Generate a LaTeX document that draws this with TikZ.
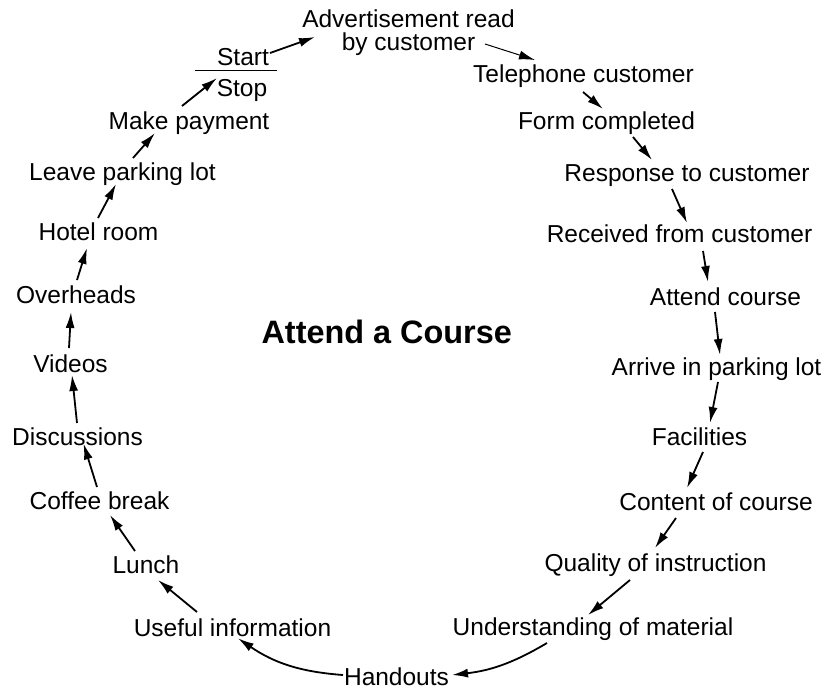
\documentclass[tikz,border=0pt]{standalone}
\usepackage{fontspec}
\setmainfont{Liberation Sans}
\usetikzlibrary{arrows.meta}

\begin{document}
\begin{tikzpicture}[x=1bp,y=-1bp,
        act/.style={anchor=base,inner sep=2bp,font=\fontsize{24.5bp}{22.7bp}\selectfont},
        flow/.style={line width=1.8bp,-{Latex[length=16bp,width=9bp]}}]
    \useasboundingbox (0,0) rectangle (827,691);

    \node [anchor=base,font=\bfseries\fontsize{32.4bp}{34bp}\selectfont] (title) at (386.7,343.3) {Attend a Course};

    % top of the cycle
    \node [act] (start) at (243,66) {Start};
    \node [act] (stop) at (242,96.7) {Stop};
    \draw [line width=1.4bp] (195,70.7) -- (277,70.7);
    \node [act,anchor=north,align=center] (adv) at (408.5,7.6) {Advertisement read \\ by customer};

    % right hand side
    \node [act] (tel) at (583.5,83) {Telephone customer};
    \node [act] (form) at (606.5,130) {Form completed};
    \node [act] (resp) at (687,181.7) {Response to customer};
    \node [act] (recv) at (679.5,242.7) {Received from customer};
    \node [act] (attend) at (725.5,305) {Attend course};
    \node [act] (arrive) at (716.5,375) {Arrive in parking lot};
    \node [act] (fac) at (699.5,445) {Facilities};
    \node [act] (content) at (716,510) {Content of course};
    \node [act] (quality) at (655.5,571.7) {Quality of instruction};
    \node [act] (under) at (593,635) {Understanding of material};
    \node [act] (hand) at (396.5,685) {Handouts};

    % left hand side
    \node [act] (useful) at (232.5,636) {Useful information};
    \node [act] (lunch) at (146,573) {Lunch};
    \node [act] (coffee) at (99.5,509) {Coffee break};
    \node [act] (disc) at (77.5,445) {Discussions};
    \node [act] (videos) at (70.5,372) {Videos};
    \node [act] (over) at (76,303) {Overheads};
    \node [act] (hotel) at (98.5,240) {Hotel room};
    \node [act] (leave) at (122.5,180.7) {Leave parking lot};
    \node [act] (make) at (189,130) {Make payment};

    \draw [flow] ([shift={(27,-13)}]start.base) -- ([shift={(-93.5,29.4)}]adv.north);
    \draw [flow,line width=1bp] ([shift={(76.5,36.4)}]adv.north) -- ([shift={(-48.5,-23)}]tel.base);
    \draw [flow] ([shift={(-0.5,9)}]tel.base) -- ([shift={(-3.5,-21)}]form.base);
    \draw [flow] ([shift={(26.5,7)}]form.base) -- ([shift={(-35,-21.7)}]resp.base);
    \draw [flow] ([shift={(-15,7.3)}]resp.base) -- ([shift={(7.5,-19.7)}]recv.base);
    \draw [flow] ([shift={(23.5,8.3)}]recv.base) -- ([shift={(-17.5,-23)}]attend.base);
    \draw [flow] ([shift={(-10.5,7)}]attend.base) -- ([shift={(3.5,-20)}]arrive.base);
    \draw [flow] ([shift={(1.5,7)}]arrive.base) -- ([shift={(10.5,-22)}]fac.base);
    \draw [flow] ([shift={(3.5,7)}]fac.base) -- ([shift={(-29,-22)}]content.base);
    \draw [flow] ([shift={(-40,8)}]content.base) -- ([shift={(-0.5,-23.7)}]quality.base);
    \draw [flow] ([shift={(-25.5,8.3)}]quality.base) -- ([shift={(-5,-20)}]under.base);
    \draw [flow] ([shift={(-46,8)}]under.base) to[bend left=12] ([shift={(55.5,-10)}]hand.base);
    \draw [flow] ([shift={(-53.5,-10)}]hand.base) to[bend left=15] ([shift={(5.5,2.3)}]useful.base);
    \draw [flow] ([shift={(-35.5,-24)}]useful.base) -- ([shift={(12,7)}]lunch.base);
    \draw [flow] ([shift={(-11,-22)}]lunch.base) -- ([shift={(10.5,6)}]coffee.base);
    \draw [flow] ([shift={(-2.5,-22)}]coffee.base) -- ([shift={(6,-1.5)}]disc.base);
    \draw [flow] ([shift={(-0.5,-22)}]disc.base) -- ([shift={(1.5,3)}]videos.base);
    \draw [flow] ([shift={(-1.5,-24)}]videos.base) -- ([shift={(-5,9)}]over.base);
    \draw [flow] ([shift={(1,-23)}]over.base) -- ([shift={(-11.5,8)}]hotel.base);
    \draw [flow] ([shift={(-0.5,-22)}]hotel.base) -- ([shift={(-6.5,3.3)}]leave.base);
    \draw [flow] ([shift={(10.5,-22.7)}]leave.base) -- ([shift={(-34,3)}]make.base);
    \draw [flow] ([shift={(-7,-24)}]make.base) -- ([shift={(-25,-18.7)}]stop.base);
\end{tikzpicture}
\end{document}
